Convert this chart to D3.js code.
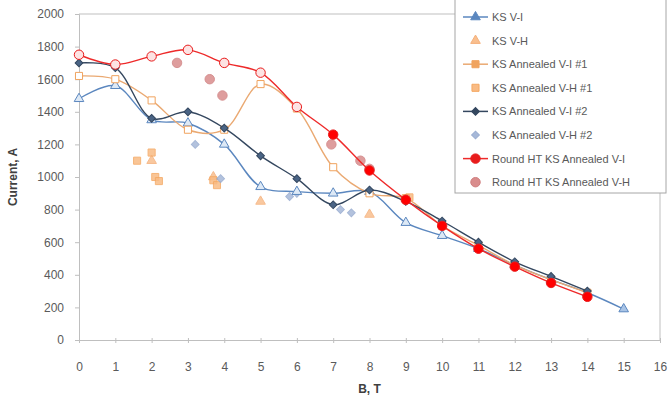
<!DOCTYPE html>
<html>
<head>
<meta charset="utf-8">
<script src="https://cdn.jsdelivr.net/npm/d3@7"></script>
<style>
  body { margin: 0; background: #fff; }
  text { font-family: "Liberation Sans", Arial, sans-serif; }
</style>
</head>
<body>
<div id="graph"></div>
<script>
// data (B in T, current in A)
var ksViB     = [0, 1, 2, 3, 4, 5, 6, 7, 8, 9, 10, 11, 12, 13, 14, 15];
var ksViI     = [1480, 1560, 1350, 1330, 1200, 940, 910, 900, 910, 720, 640, 560, 460, 370, 290, 190];
var ksVhB     = [2, 3.7, 5, 8];
var ksVhI     = [1100, 1000, 850, 770];
var ann1ViB   = [0, 1, 2, 3, 4, 5, 6, 7, 8, 9, 10, 11, 12, 13, 14];
var ann1ViI   = [1620, 1600, 1470, 1290, 1290, 1570, 1420, 1060, 900, 870, 700, 580, 460, 370, 290];
var ann1VhB   = [1.6, 2, 2.1, 2.2, 3.7, 3.8, 9.1];
var ann1VhI   = [1100, 1150, 1000, 975, 980, 950, 875];
var ann2ViB   = [0, 1, 2, 3, 4, 5, 6, 7, 8, 9, 10, 11, 12, 13, 14];
var ann2ViI   = [1700, 1670, 1360, 1400, 1300, 1130, 990, 830, 920, 850, 730, 600, 480, 390, 300];
var ann2VhB   = [3.2, 3.9, 5.8, 6, 7.2, 7.5];
var ann2VhI   = [1200, 990, 880, 900, 800, 780];
var roundViB  = [0, 1, 2, 3, 4, 5, 6, 7, 8, 9, 10, 11, 12, 13, 14];
var roundViI  = [1750, 1690, 1740, 1780, 1700, 1640, 1430, 1260, 1040, 860, 700, 560, 450, 350, 265];
var roundVhB  = [2.7, 3.6, 3.95, 6.95, 7.75, 8];
var roundVhI  = [1700, 1600, 1500, 1200, 1100, 1050];

var xTicks = [0, 1, 2, 3, 4, 5, 6, 7, 8, 9, 10, 11, 12, 13, 14, 15, 16];
var yTicks = [0, 200, 400, 600, 800, 1000, 1200, 1400, 1600, 1800, 2000];

function pts(bs, is) {
  return bs.map(function (b, i) { return {b: b, v: is[i]}; });
}

// series in legend order
var series = [
  {name: "KS V-I", values: pts(ksViB, ksViI), line: "#5b87bf", marker: "triangle", fill: "#a9c4e6", stroke: "#5b87bf"},
  {name: "KS V-H", values: pts(ksVhB, ksVhI), line: null, marker: "triangle", fill: "#f9bf8f", stroke: "#f5b07a"},
  {name: "KS  Annealed V-I #1", values: pts(ann1ViB, ann1ViI), line: "#eaa972", marker: "square", fill: "#fff", stroke: "#f0a35e"},
  {name: "KS Annealed V-H #1", values: pts(ann1VhB, ann1VhI), line: null, marker: "square", fill: "#f9bb84", stroke: "#f4a862"},
  {name: "KS  Annealed V-I #2", values: pts(ann2ViB, ann2ViI), line: "#34475f", marker: "diamond", fill: "#4a6485", stroke: "#34475f"},
  {name: "KS  Annealed V-H #2", values: pts(ann2VhB, ann2VhI), line: null, marker: "diamond", fill: "#a6b8d8", stroke: "#98acd0"},
  {name: "Round HT KS Annealed V-I", values: pts(roundViB, roundViI), line: "#ee2a2a", marker: "circle", fill: "#ff0000", stroke: "#e81c1c"},
  {name: "Round HT KS Annealed V-H", values: pts(roundVhB, roundVhI), line: null, marker: "circle", fill: "#d98c8c", stroke: "#d07f7f"}
];

var margin = {top: 14, right: 9, bottom: 64, left: 79},
    width = 669 - margin.left - margin.right,
    height = 404 - margin.top - margin.bottom;

var svg = d3.select("#graph")
  .append("svg")
    .attr("width", 669)
    .attr("height", 404)
  .append("g")
    .attr("transform", "translate(" + margin.left + "," + margin.top + ")");

var x = d3.scaleLinear().domain([0, 16]).range([0, 581]);
var y = d3.scaleLinear().domain([0, 2000]).range([height, 0]);

// plot border (top + right)
svg.append("path")
  .attr("d", "M0,0H" + x(16) + "V" + y(0))
  .style("fill", "none")
  .style("stroke", "#bfbfbf");

// axes
var xAxis = svg.append("g")
  .attr("transform", "translate(0," + y(0) + ")")
  .call(d3.axisBottom(x).tickValues(xTicks).tickFormat(d3.format("d")).tickSize(3).tickPadding(19));
var yAxis = svg.append("g")
  .call(d3.axisLeft(y).tickValues(yTicks).tickFormat(d3.format("d")).tickSize(4).tickPadding(11));
[xAxis, yAxis].forEach(function (a) {
  a.select(".domain").style("stroke", "#bfbfbf");
  a.selectAll(".tick line").style("stroke", "#bfbfbf");
  a.selectAll("text").style("font-size", "12px").style("fill", "#5a5a5a");
});
xAxis.selectAll(".tick line").attr("y1", -2);

// axis titles
svg.append("text")
  .attr("transform", "translate(-62," + y(1000) + ") rotate(-90)")
  .attr("text-anchor", "middle")
  .style("font-size", "12px").style("font-weight", "bold").style("fill", "#404040")
  .text("Current, A");
svg.append("text")
  .attr("x", x(8)).attr("y", height + 53)
  .attr("text-anchor", "middle")
  .style("font-size", "12px").style("font-weight", "bold").style("fill", "#404040")
  .text("B, T");

var line = d3.line()
  .x(function (d) { return x(d.b); })
  .y(function (d) { return y(d.v); })
  .curve(d3.curveCatmullRom.alpha(0.5));

var symbols = {
  triangle: d3.symbol().type(d3.symbolTriangle).size(40),
  square: d3.symbol().type(d3.symbolSquare).size(50),
  diamond: d3.symbol().type(d3.symbolSquare).size(30),
  circle: d3.symbol().type(d3.symbolCircle).size(70)
};
function rot(s) { return s.marker === "diamond" ? " rotate(45)" : ""; }

// scatter-only series first, then lines on top
var drawOrder = [1, 3, 5, 7, 0, 2, 4, 6];
drawOrder.forEach(function (k) {
  var s = series[k];
  var g = svg.append("g");
  if (s.line) {
    g.append("path")
      .attr("d", line(s.values))
      .style("fill", "none")
      .style("stroke", s.line)
      .style("stroke-width", 1.4);
  }
  g.selectAll("path.mk")
    .data(s.values)
    .enter()
    .append("path")
      .attr("class", "mk")
      .attr("transform", function (d) { return "translate(" + x(d.b) + "," + y(d.v) + ")" + rot(s); })
      .attr("d", symbols[s.marker])
      .style("fill", function (d) {
        // open markers on the low-field part of the line series
        if (k === 6 && d.b < 7) return "#fde3e3";
        if (k === 0 && d.b < 15) return "#dde9f6";
        return s.fill;
      })
      .style("stroke", s.stroke)
      .style("stroke-width", 1)
      .style("opacity", s.line ? 1 : 0.85);
});

// legend
var lg = svg.append("g").attr("transform", "translate(" + (455 - margin.left) + "," + (-margin.top - 2) + ")");
lg.append("rect")
  .attr("width", 211).attr("height", 195)
  .style("fill", "#fff").style("stroke", "#a6a6a6");
series.forEach(function (s, i) {
  var row = lg.append("g").attr("transform", "translate(0," + (19 + i * 23.6) + ")");
  if (s.line) {
    row.append("line").attr("x1", 8).attr("x2", 33)
      .style("stroke", s.line).style("stroke-width", 1.5);
  }
  row.append("path")
    .attr("transform", "translate(20.5,0)" + rot(s))
    .attr("d", symbols[s.marker])
    .style("fill", s.line ? s.stroke : s.fill)
    .style("stroke", s.stroke);
  row.append("text")
    .attr("x", 37).attr("y", 4)
    .style("font-size", "11px").style("fill", "#595959")
    .text(s.name);
});
</script>
</body>
</html>
